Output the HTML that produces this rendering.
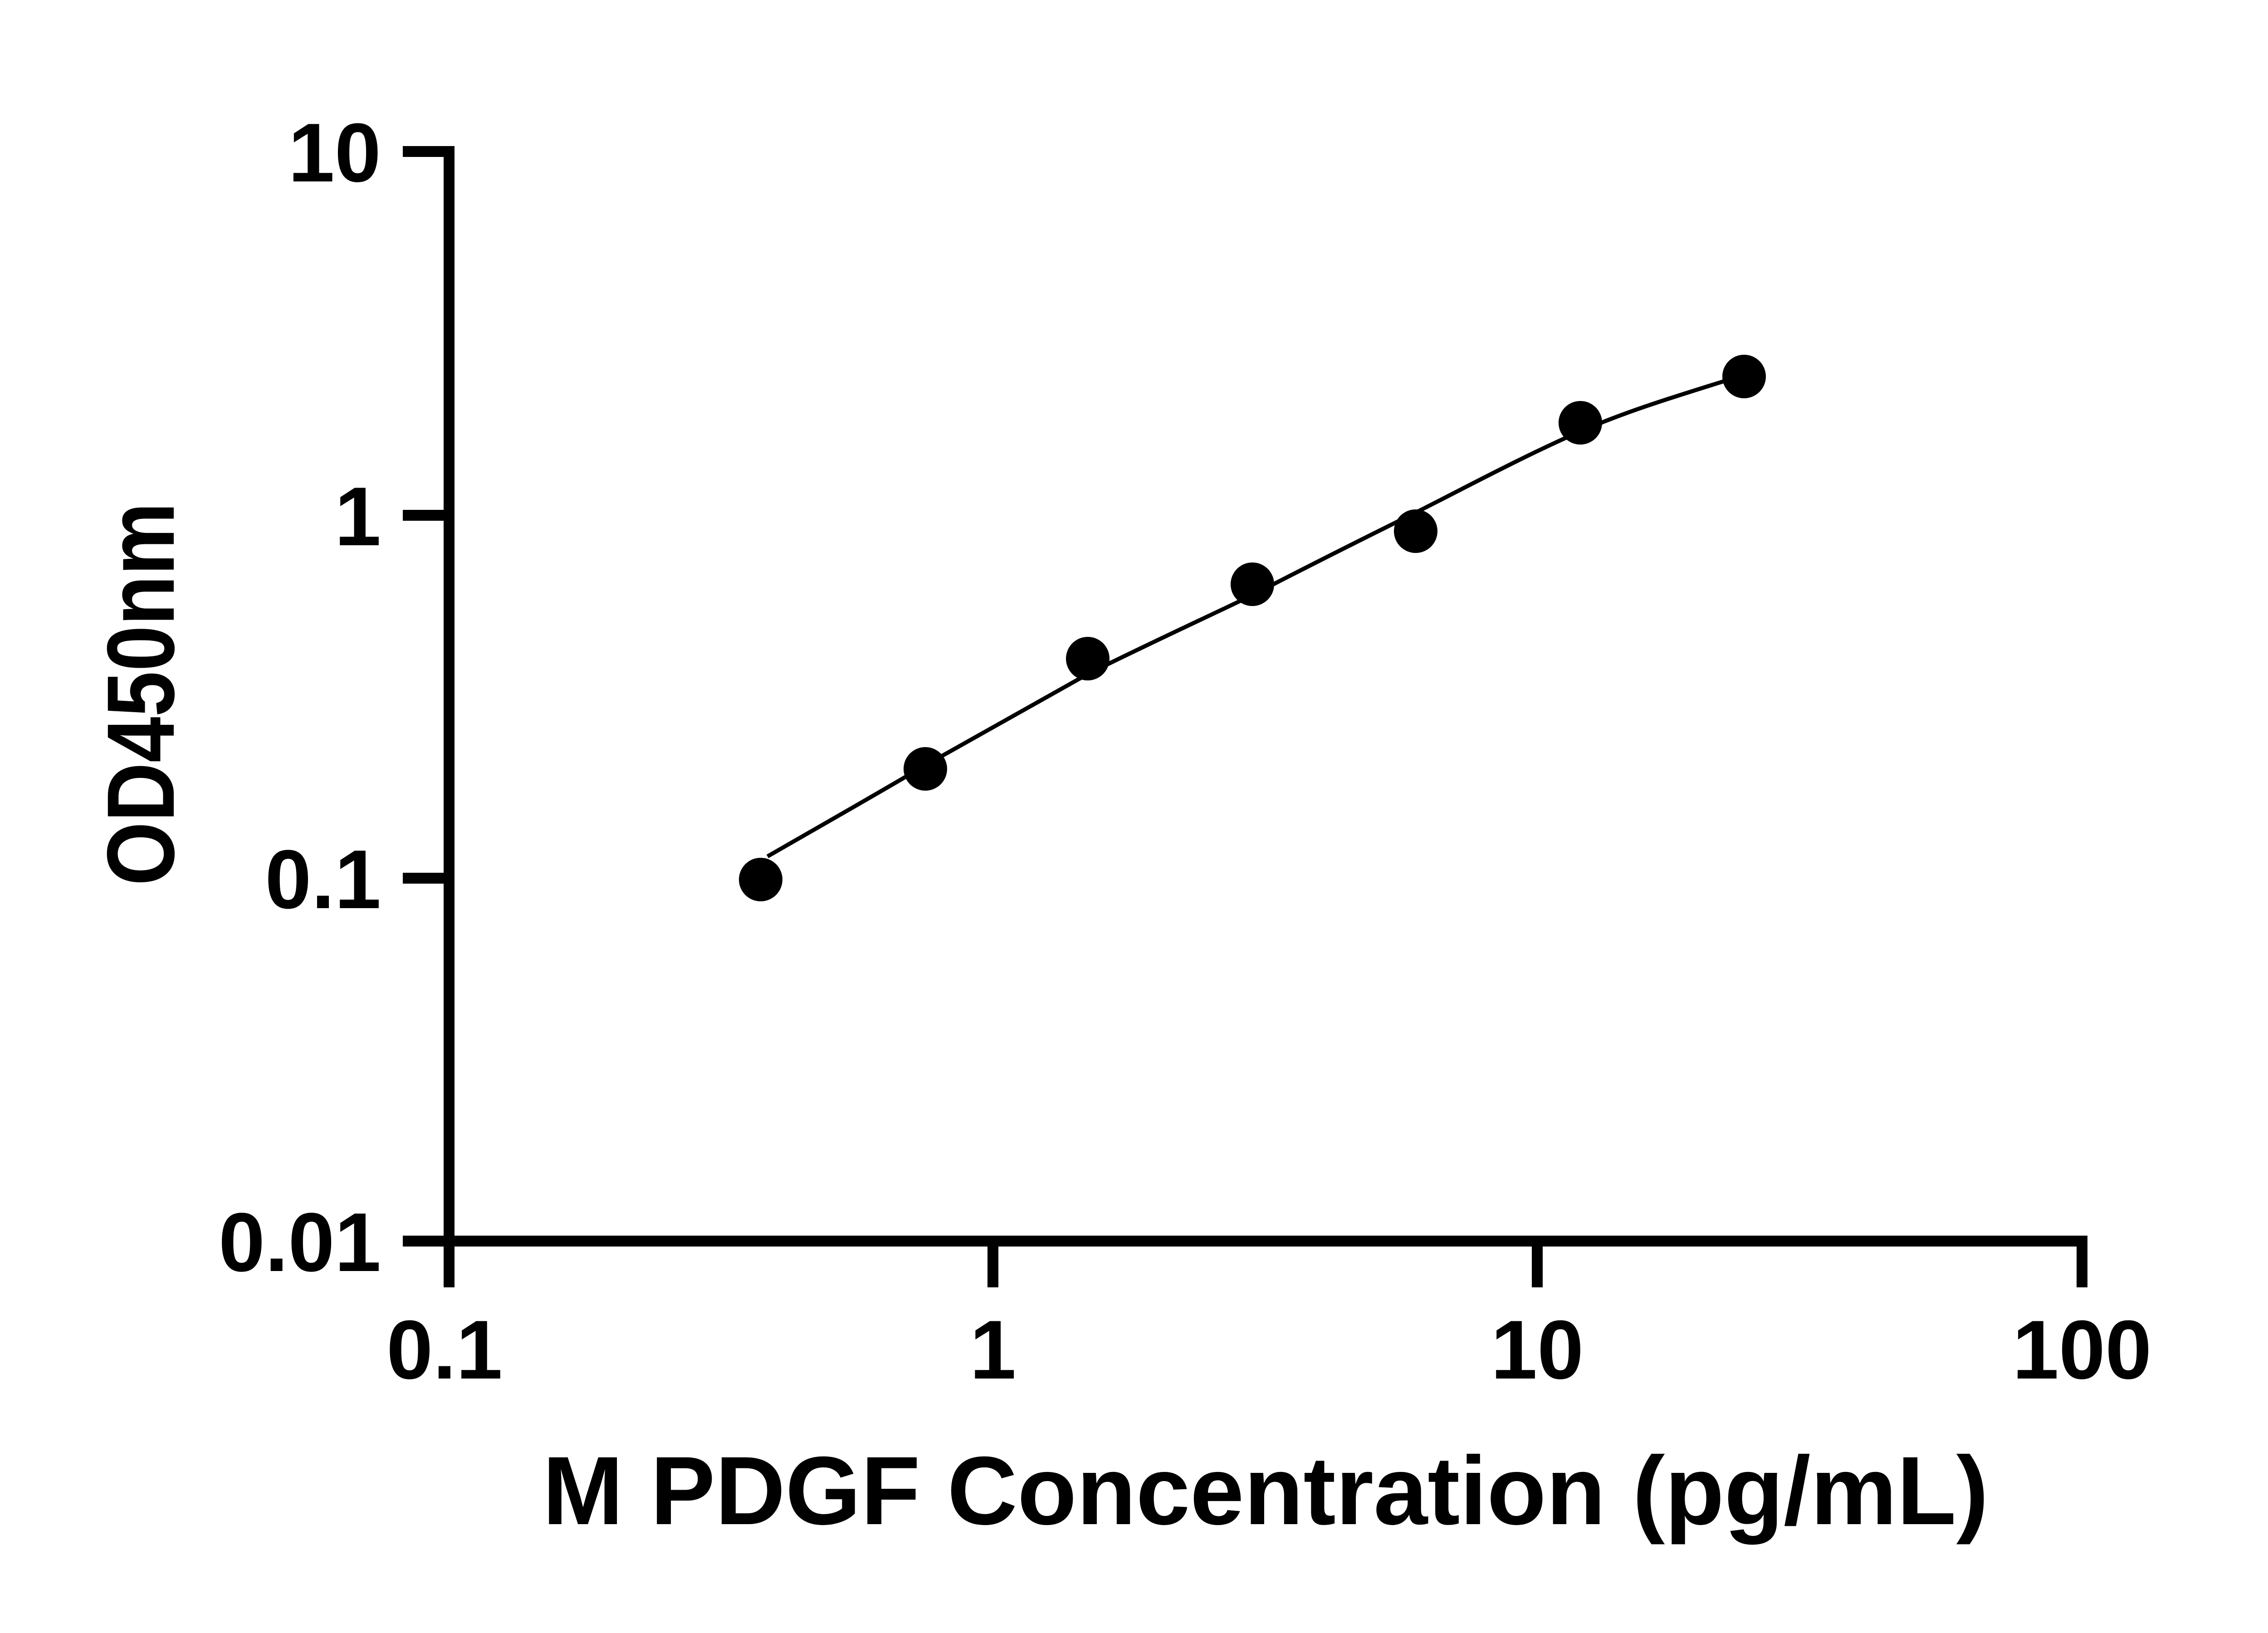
<!DOCTYPE html>
<html><head><meta charset="utf-8"><style>html,body{margin:0;padding:0;background:#fff}svg{display:block}</style></head>
<body>
<svg width="5142" height="3600" viewBox="0 0 5142 3600" xmlns="http://www.w3.org/2000/svg">
<rect width="5142" height="3600" fill="#fff"/>
<g stroke="#000" stroke-width="24" fill="none">
<line x1="990" y1="322" x2="990" y2="2838"/>
<line x1="888" y1="2736" x2="4602" y2="2736"/>
<line x1="888" y1="334" x2="990" y2="334"/>
<line x1="888" y1="1136" x2="990" y2="1136"/>
<line x1="888" y1="1936" x2="990" y2="1936"/>
<line x1="2189" y1="2736" x2="2189" y2="2838"/>
<line x1="3389" y1="2736" x2="3389" y2="2838"/>
<line x1="4590" y1="2736" x2="4590" y2="2838"/>
</g>
<g font-family="Liberation Sans, Arial, sans-serif" font-weight="bold" font-size="184" fill="#000">
<text x="840" y="400" text-anchor="end">10</text>
<text x="840" y="1202" text-anchor="end">1</text>
<text x="840" y="2002" text-anchor="end">0.1</text>
<text x="840" y="2802" text-anchor="end">0.01</text>
<text x="980" y="3039" text-anchor="middle">0.1</text>
<text x="2189" y="3039" text-anchor="middle">1</text>
<text x="3389" y="3039" text-anchor="middle">10</text>
<text x="4590" y="3039" text-anchor="middle">100</text>
</g>
<text x="2790" y="3360" text-anchor="middle" font-family="Liberation Sans, Arial, sans-serif" font-weight="bold" font-size="214" textLength="3188" lengthAdjust="spacingAndGlyphs">M PDGF Concentration (pg/mL)</text>
<text transform="translate(383,1530) rotate(-90)" x="0" y="0" text-anchor="middle" font-family="Liberation Sans, Arial, sans-serif" font-weight="bold" font-size="211" textLength="845" lengthAdjust="spacingAndGlyphs">OD450nm</text>
<path d="M1692,1888 C1810,1820 1925,1755 2040,1687 C2160,1620 2280,1552 2398,1486 C2520,1425 2640,1370 2761,1312 C2880,1250 3000,1190 3121,1130 C3240,1070 3360,1005 3484,951 C3590,905 3700,872 3805,839" stroke="#000" stroke-width="9" fill="none"/>
<g fill="#000">
<circle cx="1677" cy="1939" r="48"/>
<circle cx="2040" cy="1695" r="48"/>
<circle cx="2398" cy="1452" r="48"/>
<circle cx="2761" cy="1288" r="48"/>
<circle cx="3121" cy="1171" r="48"/>
<circle cx="3484" cy="932" r="48"/>
<circle cx="3845" cy="830" r="48"/>
</g>
</svg>
</body></html>
